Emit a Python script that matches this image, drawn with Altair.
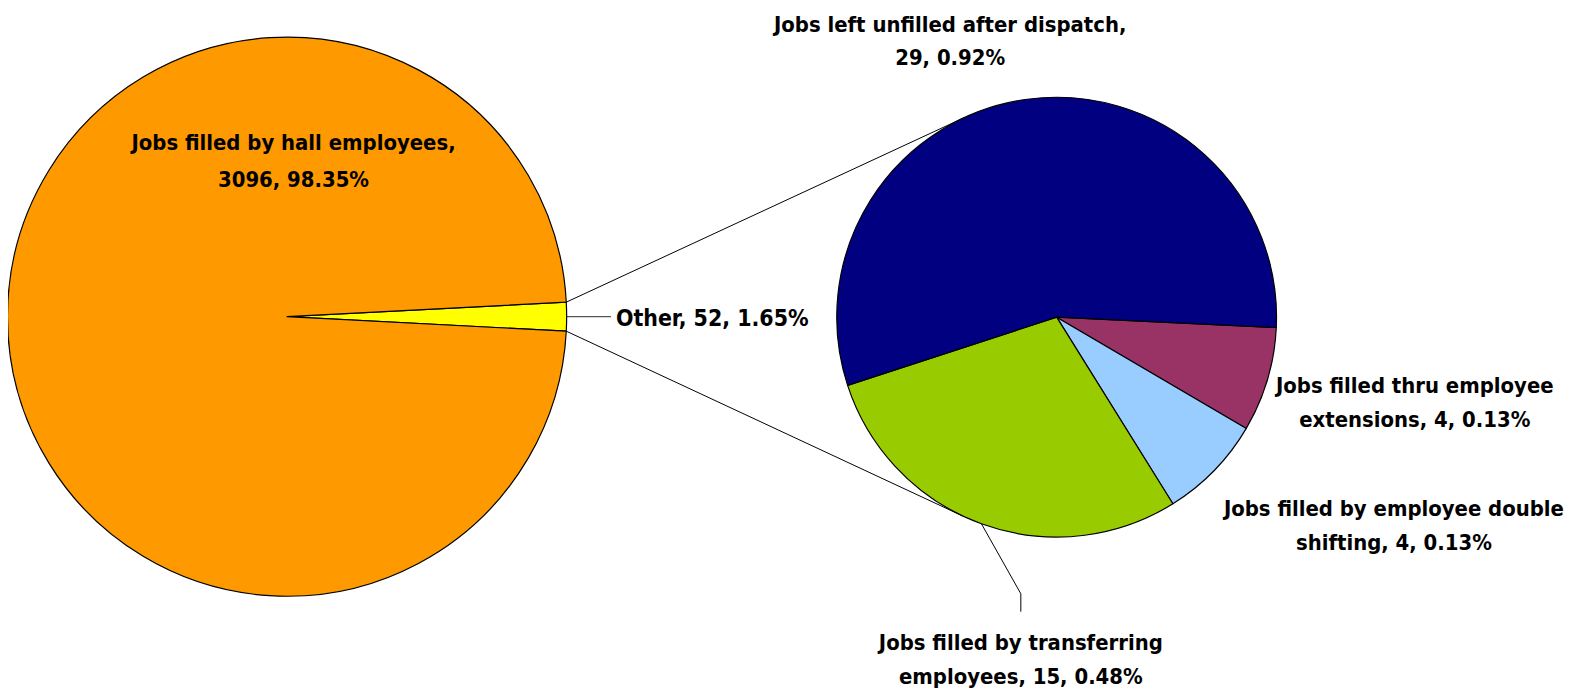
import math
import altair as alt
import pandas as pd

# ---- data ----
main_labels = ["Other", "Jobs filled by hall employees"]
main_values = [52, 3096]
main_pcts = ["1.65%", "98.35%"]

sub_labels = [
    "Jobs filled thru employee extensions",
    "Jobs filled by employee double shifting",
    "Jobs filled by transferring employees",
    "Jobs left unfilled after dispatch",
]
sub_values = [4, 4, 15, 29]
sub_pcts = ["0.13%", "0.13%", "0.48%", "0.92%"]

# ---- layout (page px -> view px: minus 8 margin) ----
OFF = 8
FONT = "DejaVu Sans Condensed"
FS = 22
LH = 34

C1 = (288.5 - OFF, 316.5 - OFF)
R1 = 281
C2 = (1062 - OFF, 317 - OFF)
R2 = 221

main_colors = ["#FFFF00", "#FF9900"]
sub_colors = ["#993366", "#99CCFF", "#99CC00", "#000080"]

main_total = sum(main_values)
other_frac = main_values[0] / main_total
main_start = math.pi / 2 - other_frac * math.pi  # Other centred at 3 o'clock
sub_start = math.radians(92.7)

main_df = pd.DataFrame({"label": main_labels, "value": main_values, "ord": [0, 1]})
sub_df = pd.DataFrame({"label": sub_labels, "value": sub_values, "ord": [0, 1, 2, 3]})


def pie(df, colors, cx, cy, r, start):
    return alt.Chart(df).mark_arc(
        radius=r, stroke="black", strokeWidth=1.2, strokeJoin="round"
    ).encode(
        theta=alt.Theta("value:Q", stack=True,
                        scale=alt.Scale(range=[start, start + 2 * math.pi])),
        order=alt.Order("ord:Q"),
        color=alt.Color("label:N", legend=None,
                        scale=alt.Scale(domain=list(df["label"]), range=colors)),
        x=alt.value(cx), y=alt.value(cy),
    )


def pt(c, r, ang):
    # angle measured clockwise from 12 o'clock
    return (c[0] + r * math.sin(ang), c[1] - r * math.cos(ang))


# connector lines: Other slice edges to tangent points on the second pie
a0 = main_start
a1 = main_start + other_frac * 2 * math.pi
P_top = pt(C1, R1, a0)
P_bot = pt(C1, R1, a1)


def tangent(P, C, r, sign):
    dx, dy = P[0] - C[0], P[1] - C[1]
    d = math.hypot(dx, dy)
    phi = math.atan2(dy, dx)
    al = math.acos(r / d)
    t = phi + sign * al
    return (C[0] + r * math.cos(t), C[1] + r * math.sin(t))


T_top = tangent(P_top, C2, R2, 1)
T_bot = tangent(P_bot, C2, R2, -1)

seg_df = pd.DataFrame({
    "x": [P_top[0], P_bot[0]], "y": [P_top[1], P_bot[1]],
    "x2": [T_top[0], T_bot[0]], "y2": [T_top[1], T_bot[1]],
})
connectors = alt.Chart(seg_df).mark_rule(color="black", strokeWidth=1).encode(
    x=alt.X("x:Q", scale=None), y=alt.Y("y:Q", scale=None),
    x2="x2:Q", y2="y2:Q",
)

# leader for Other
P_mid = pt(C1, R1, (a0 + a1) / 2)
other_leader = alt.Chart(pd.DataFrame({
    "x": [P_mid[0]], "y": [P_mid[1]], "x2": [614 - OFF], "y2": [P_mid[1]]
})).mark_rule(color="#555555", strokeWidth=1.3).encode(
    x=alt.X("x:Q", scale=None), y=alt.Y("y:Q", scale=None), x2="x2:Q", y2="y2:Q")

# leader for transferring slice
sub_total = sum(sub_values)
cum = sum(sub_values[:2])
g_mid = sub_start + (cum + sub_values[2] / 2) / sub_total * 2 * math.pi
G0 = pt(C2, R2, g_mid)
lead_x = 1026 - OFF
leader_df = pd.DataFrame({
    "x": [G0[0], lead_x, lead_x],
    "y": [G0[1], 595 - OFF, 613 - OFF],
    "o": [0, 1, 2],
})
trans_leader = alt.Chart(leader_df).mark_line(color="black", strokeWidth=1).encode(
    x=alt.X("x:Q", scale=None), y=alt.Y("y:Q", scale=None), order="o:Q")

# labels
main_lab = alt.Chart(pd.DataFrame({
    "text": [f"Jobs filled by hall employees,\n{main_values[1]}, {main_pcts[1]}"],
    "x": [295 - OFF], "y": [149 - OFF],
})).mark_text(
    font=FONT, fontSize=FS, fontWeight="bold", color="black",
    align="center", baseline="alphabetic", lineBreak="\n", lineHeight=37,
).encode(x=alt.X("x:Q", scale=None), y=alt.Y("y:Q", scale=None), text="text:N")

lab_df = pd.DataFrame({
    "text": [
        f"Jobs left unfilled after dispatch,\n{sub_values[3]}, {sub_pcts[3]}",
        f"Jobs filled thru employee\nextensions, {sub_values[0]}, {sub_pcts[0]}",
        f"Jobs filled by employee double\nshifting, {sub_values[1]}, {sub_pcts[1]}",
        f"Jobs filled by transferring\nemployees, {sub_values[2]}, {sub_pcts[2]}",
    ],
    "x": [955 - OFF, 1422 - OFF, 1401 - OFF, 1026 - OFF],
    "y": [30 - OFF, 393 - OFF, 517 - OFF, 652 - OFF],
})
labels = alt.Chart(lab_df).mark_text(
    font=FONT, fontSize=FS, fontWeight="bold", color="black",
    align="center", baseline="alphabetic", lineBreak="\n", lineHeight=LH,
).encode(x=alt.X("x:Q", scale=None), y=alt.Y("y:Q", scale=None), text="text:N")

other_label = alt.Chart(pd.DataFrame({
    "text": [f"{main_labels[0]}, {main_values[0]}, {main_pcts[0]}"],
    "x": [619 - OFF], "y": [326 - OFF],
})).mark_text(
    font=FONT, fontSize=23, fontWeight="bold", color="black",
    align="left", baseline="alphabetic",
).encode(x=alt.X("x:Q", scale=None), y=alt.Y("y:Q", scale=None), text="text:N")

chart = alt.layer(
    connectors,
    other_leader,
    pie(main_df, main_colors, C1[0], C1[1], R1, main_start),
    pie(sub_df, sub_colors, C2[0], C2[1], R2, sub_start),
    trans_leader,
    main_lab,
    labels,
    other_label,
).resolve_scale(
    theta="independent", color="independent"
).properties(
    width=1573, height=683, padding=0, autosize="none",
).configure_view(stroke=None)

chart.save("out.html", embed_options={"renderer": "svg", "actions": False})
